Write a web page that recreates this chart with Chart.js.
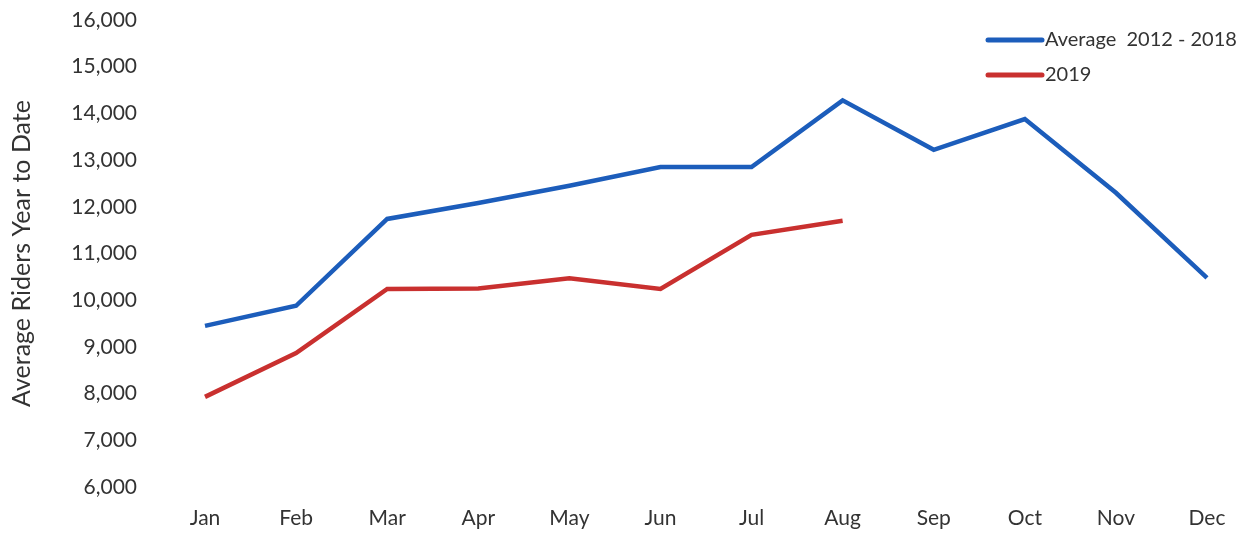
<!DOCTYPE html>
<html>
<head>
<meta charset="utf-8">
<title>Average Riders Year to Date</title>
<script src="https://cdn.jsdelivr.net/npm/chart.js@4/dist/chart.umd.min.js"></script>
<style>
  html, body { margin: 0; padding: 0; background: #fff; overflow: hidden; }
  #wrap { position: relative; width: 1246px; height: 534px; }
</style>
</head>
<body>
<div id="wrap"><canvas id="ridersChart"></canvas></div>
<script>
// Monthly average riders, year to date
const months = ['Jan', 'Feb', 'Mar', 'Apr', 'May', 'Jun', 'Jul', 'Aug', 'Sep', 'Oct', 'Nov', 'Dec'];
const avg2012to2018 = [9450, 9880, 11740, 12080, 12450, 12850, 12850, 14280, 13220, 13880, 12300, 10480];
const riders2019 = [7930, 8870, 10240, 10250, 10470, 10240, 11400, 11700];
const yMin = 6000;
const yMax = 16000;
const yStep = 1000;

const fontFamily = 'Lato, "Open Sans", sans-serif';
const textColor = '#333';

// Small legend drawn in the top right corner of the plot
const cornerLegend = {
    id: 'cornerLegend',
    afterDraw(chart) {
        const c = chart.ctx;
        const rows = [40, 75];
        c.save();
        c.font = '20px ' + fontFamily;
        c.textBaseline = 'middle';
        c.lineCap = 'round';
        chart.data.datasets.forEach((ds, i) => {
            c.strokeStyle = ds.borderColor;
            c.lineWidth = 5;
            c.beginPath();
            c.moveTo(988, rows[i]);
            c.lineTo(1042, rows[i]);
            c.stroke();
            c.fillStyle = textColor;
            c.fillText(ds.label, 1045, rows[i]);
        });
        c.restore();
    }
};

const ctx = document.getElementById('ridersChart').getContext('2d');
const ridersChart = new Chart(ctx, {
    type: 'line',
    data: {
        labels: months,
        datasets: [
            {
                label: 'Average  2012 - 2018',
                data: avg2012to2018,
                borderColor: '#1c5dbb',
                borderWidth: 4.5,
                pointRadius: 0,
                tension: 0
            },
            {
                label: '2019',
                data: riders2019,
                borderColor: '#c9302f',
                borderWidth: 4.5,
                pointRadius: 0,
                tension: 0
            }
        ]
    },
    options: {
        responsive: true,
        maintainAspectRatio: false,
        animation: false,
        layout: { padding: { top: 20, right: 39, bottom: 3, left: 0 } },
        plugins: {
            legend: { display: false },
            tooltip: { enabled: false }
        },
        scales: {
            x: {
                grid: { display: false, drawTicks: false },
                border: { display: false },
                ticks: {
                    color: textColor,
                    font: { family: fontFamily, size: 21 },
                    padding: 19,
                    maxRotation: 0
                },
                afterFit: (scale) => {
                    scale.height = 44;
                    scale.paddingTop = 0;
                    scale.paddingBottom = 0;
                }
            },
            y: {
                min: yMin,
                max: yMax,
                grid: { display: false, drawTicks: false },
                border: { display: false },
                ticks: {
                    stepSize: yStep,
                    color: textColor,
                    font: { family: fontFamily, size: 21 },
                    padding: 68,
                    callback: (v) => v.toLocaleString('en-US')
                },
                title: {
                    display: true,
                    text: 'Average Riders Year to Date',
                    color: textColor,
                    font: { family: fontFamily, size: 25 },
                    padding: { top: 7, bottom: 0 }
                },
                // fixed axis width; the large tick padding must not push the plot down
                afterFit: (scale) => {
                    scale.width = 205;
                    scale.paddingTop = 0;
                    scale.paddingBottom = 0;
                }
            }
        }
    },
    plugins: [cornerLegend]
});
</script>
</body>
</html>
